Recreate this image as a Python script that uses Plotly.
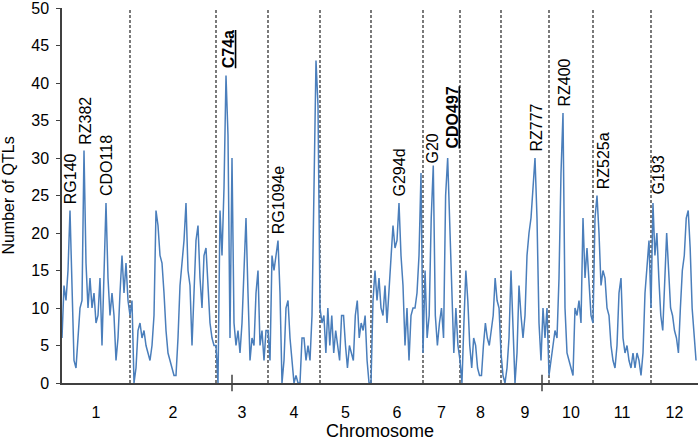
import plotly.graph_objects as go

# chromosome names and their lengths on the x axis (same units as the axis)
chrom_names = ["1", "2", "3", "4", "5", "6", "7", "8", "9", "10", "11", "12"]
chrom_lengths = [68, 86, 52, 52, 51, 52, 37, 41, 48, 44, 58, 47]

# number of QTLs along each chromosome (evenly spaced bins)
qtl_chr1 = [6, 13, 11, 15, 23, 14, 3, 2, 6, 10, 11, 31, 16, 10, 14, 10, 12, 8, 9, 14,
            5, 14, 24, 14, 9, 12, 9, 3, 6, 12, 17, 12, 16, 11]
qtl_chr2 = [9, 11, 0, 2, 7, 8, 6, 7, 5, 4, 3, 5, 9, 23, 21, 17, 16, 12, 7, 4,
            3, 2, 1, 1, 6, 13, 16, 19, 24, 15, 13, 5, 12, 19, 21, 14, 10, 17, 18, 13,
            8, 6, 5]
qtl_chr3 = [5, 0, 23, 17, 26, 41, 33, 6, 30, 8, 5, 7, 4, 8, 15, 22, 12, 3, 6, 5,
            12, 15, 5, 7, 3, 7]
qtl_chr4 = [7, 3, 17, 15, 17, 19, 12, 0, 3, 10, 11, 6, 3, 0, 1, 0, 0, 6, 6, 3,
            5, 3, 9, 25, 43, 37]
qtl_chr5 = [10, 8, 9, 4, 10, 5, 9, 4, 7, 5, 3, 9, 9, 5, 2, 5, 4, 3, 9, 11,
            6, 8, 7, 9, 3, 0]
qtl_chr6 = [0, 11, 15, 11, 14, 10, 9, 13, 8, 12, 17, 21, 18, 19, 24, 17, 13, 5, 10, 3,
            9, 10, 10, 12, 17, 28]
qtl_chr7 = [4, 15, 6, 9, 22, 29, 9, 5, 8, 10, 6, 25, 30, 22, 13, 4, 10, 5]
qtl_chr8 = [3, 0, 8, 15, 11, 5, 2, 6, 5, 2, 1, 1, 5, 8, 6, 5, 7, 9, 14, 11, 10]
qtl_chr9 = [4, 1, 0, 2, 6, 15, 8, 0, 4, 13, 9, 6, 9, 17, 20, 22, 26, 30, 22, 8,
            3, 10, 6, 10]
qtl_chr10 = [1, 3, 5, 7, 6, 14, 28, 36, 10, 4, 3, 2, 1, 10, 9, 11, 8, 22, 14, 18,
             13, 9]
qtl_chr11 = [8, 22, 25, 20, 13, 15, 14, 10, 9, 5, 3, 2, 5, 12, 14, 6, 4, 5, 3, 2,
             4, 2, 4, 3, 1, 4, 12, 15, 19]
qtl_chr12 = [10, 24, 17, 20, 14, 9, 7, 14, 20, 15, 10, 9, 7, 6, 4, 10, 15, 17, 22, 23,
             18, 10, 6, 3]

qtl_by_chrom = [qtl_chr1, qtl_chr2, qtl_chr3, qtl_chr4, qtl_chr5, qtl_chr6,
                qtl_chr7, qtl_chr8, qtl_chr9, qtl_chr10, qtl_chr11, qtl_chr12]

y_ticks = [0, 5, 10, 15, 20, 25, 30, 35, 40, 45, 50]

# marker labels (bold + underlined ones are highlighted)
marker_names = ["RG140", "RZ382", "CDO118", "C74a", "RG1094e", "G294d",
                "G20", "CDO497", "RZ777", "RZ400", "RZ525a", "G193"]
marker_highlight = [False, False, False, True, False, False,
                    False, True, False, False, False, False]

# chromosome start positions
starts = [0]
for L in chrom_lengths:
    starts.append(starts[-1] + L)
centers = [starts[i] + chrom_lengths[i] / 2 for i in range(len(chrom_lengths))]

x_all, y_all = [], []
for i, vals in enumerate(qtl_by_chrom):
    step = chrom_lengths[i] / len(vals)
    for j, v in enumerate(vals):
        x_all.append(starts[i] + j * step)
        y_all.append(v)

fig = go.Figure()
fig.add_trace(go.Scatter(x=x_all, y=y_all, mode="lines",
                         line=dict(color="#4A7EBB", width=1.5),
                         hoverinfo="skip", showlegend=False))

# dashed chromosome boundaries
for b in starts[1:-1]:
    fig.add_shape(type="line", xref="x", yref="y", x0=b, x1=b, y0=0, y1=50,
                  line=dict(color="#222222", width=1.2, dash="3px,2px"), layer="below")

# stray axis ticks seen in the original
for xt in [170, 480]:
    fig.add_shape(type="line", xref="x", yref="paper", x0=xt, x1=xt, y0=-0.022, y1=0.022,
                  line=dict(color="#404040", width=1.5))

# marker label positions (x, bottom of text in y units)
label_pos = [(8, 23.5), (24, 31.5), (44, 24.6), (166, 41.7), (216, 19.5), (337, 24.6),
             (370, 29), (390, 31), (474, 30.6), (502, 36.6), (541, 25.5), (596, 24.8)]
for name, hi, (lx, ly) in zip(marker_names, marker_highlight, label_pos):
    txt = "<b><u>%s</u></b>" % name if hi else name
    fig.add_annotation(x=lx, y=ly, xref="x", yref="y", text=txt, textangle=-90,
                       showarrow=False, xanchor="center", yanchor="bottom",
                       font=dict(size=16, color="#000000"))

fig.update_layout(
    template="none",
    width=700, height=445,
    margin=dict(l=62, r=2, t=8, b=62),
    plot_bgcolor="white", paper_bgcolor="white",
    font=dict(family="Liberation Sans, Arial, sans-serif", size=16, color="#000000"),
    showlegend=False,
)

fig.update_xaxes(range=[0, 636], tickvals=centers, ticktext=chrom_names,
                 ticks="", showline=True, linecolor="#404040", linewidth=1.5,
                 showgrid=False, zeroline=False, automargin=False,
                 ticklabelstandoff=14, ticklabeloverflow="allow",
                 title=dict(text="Chromosome", font=dict(size=18), standoff=2))
fig.update_yaxes(range=[0, 50], tickmode="array", tickvals=y_ticks, ticks="outside", ticklen=4,
                 tickcolor="#404040", showline=True, linecolor="#404040", linewidth=1.5,
                 showgrid=False, zeroline=False, automargin=False,
                 ticklabelstandoff=4, ticklabeloverflow="allow",
                 title=dict(text="Number of QTLs", font=dict(size=16), standoff=14))

# the page body has a default 8px margin; drop it so the figure fills the window
fig.write_html("out.html", config={"displayModeBar": False},
               post_script="document.body.style.margin='0';")
